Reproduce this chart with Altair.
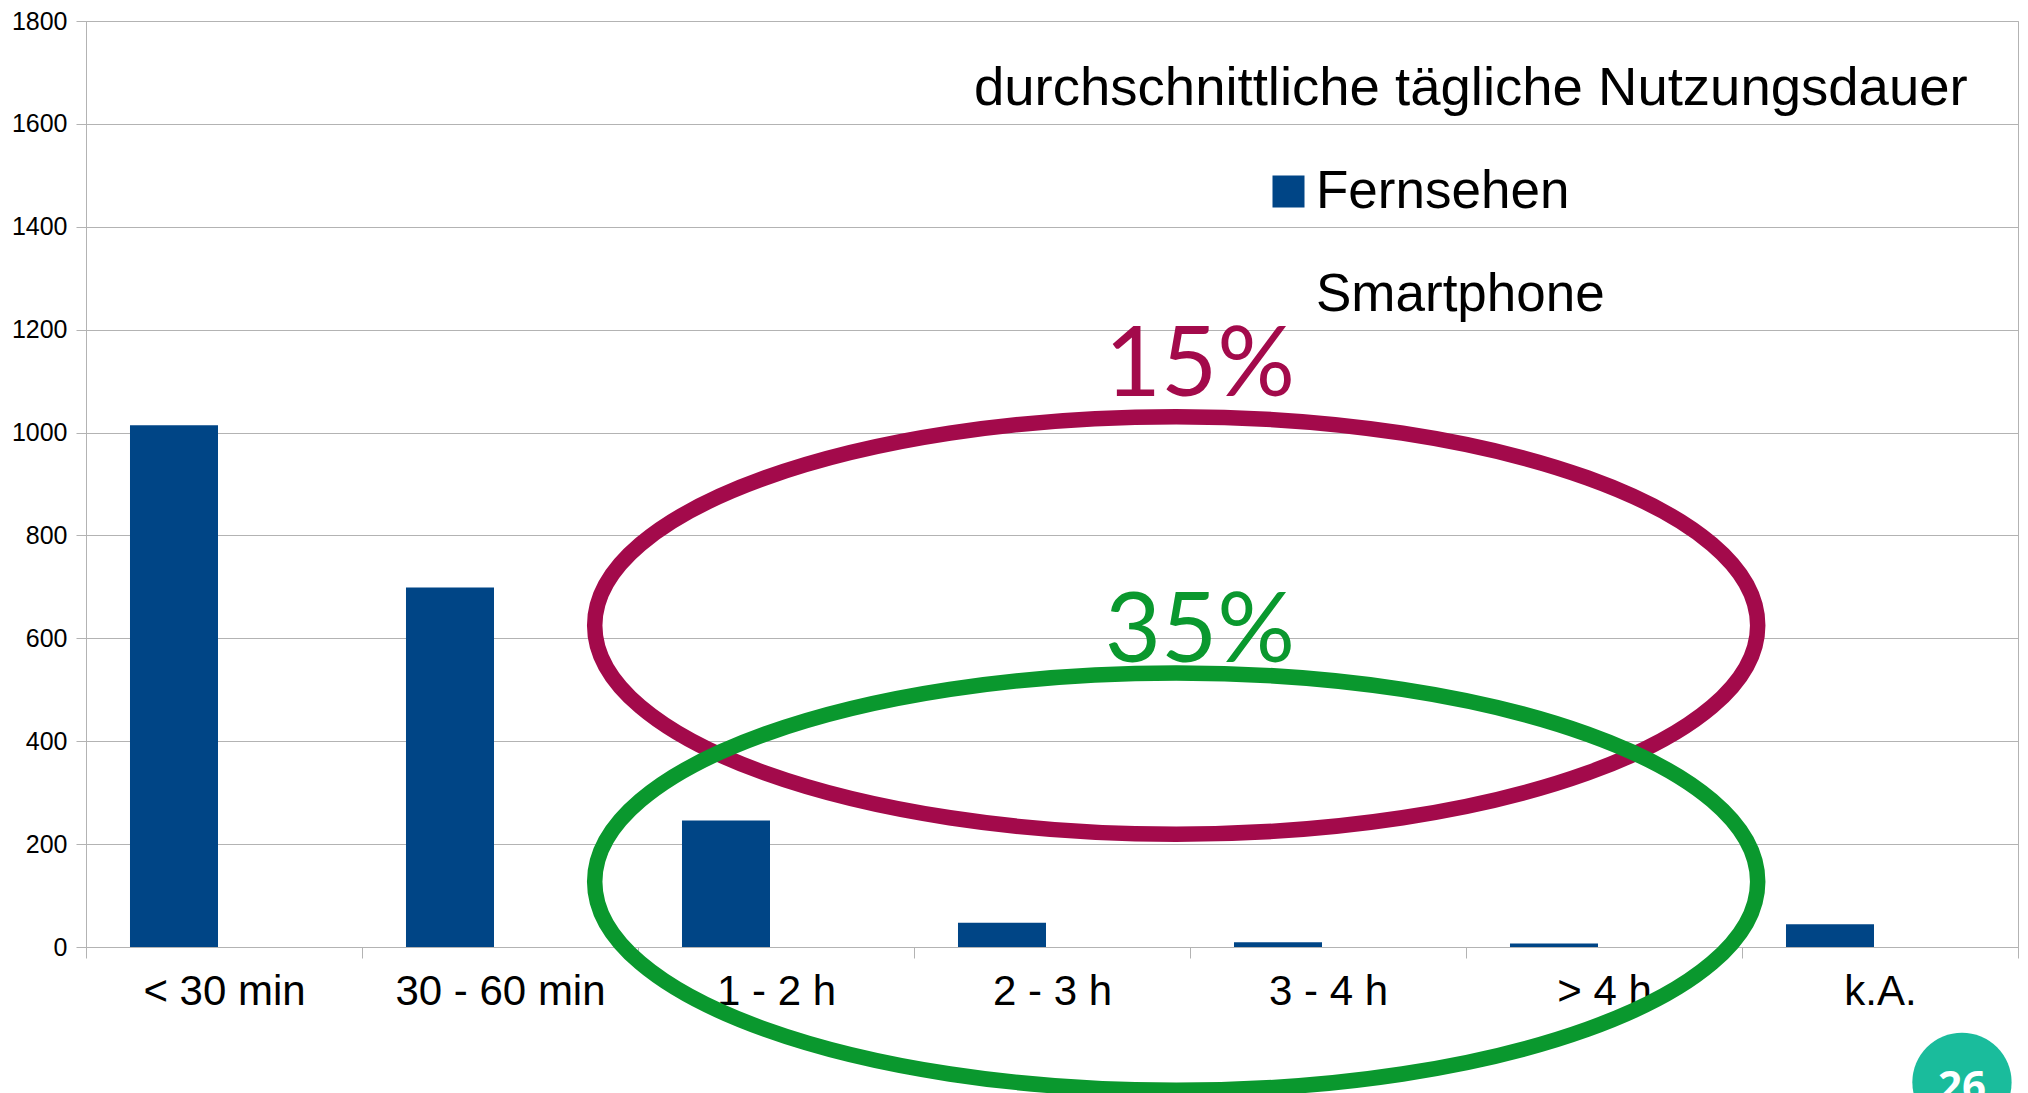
import altair as alt
import pandas as pd

# ---- chart data ----
categories = ["< 30 min", "30 - 60 min", "1 - 2 h", "2 - 3 h", "3 - 4 h", "> 4 h", "k.A."]
series = ["Fernsehen", "Smartphone"]
fernsehen = [1014, 699, 246, 47, 9, 7, 44]
smartphone = [None, None, None, None, None, None, None]
y_ticks = [0, 200, 400, 600, 800, 1000, 1200, 1400, 1600, 1800]
legend_title = "durchschnittliche tägliche Nutzungsdauer"

# ---- annotation anchors (category units on x, axis values on y) ----
ellipse_x = [3.95, 3.95]
ellipse_y = [625, 127]
pct_labels = ["15%", "35%"]
pct_x = [4.036, 4.036]
pct_y = [1072, 554]
badge_label = ["26"]
badge_x = [6.797]
badge_y = [-263]
badge_text_y = [-300]

# ---- styles ----
BLUE = "#004586"
MAGENTA = "#a30a4b"
GREEN = "#0a982e"
TEAL = "#1abc9c"
GRID = "#b3b3b3"
FONT = "Liberation Sans"
ELLIPSE = "M -1 0 A 1 0.3589 0 1 1 1 0 A 1 0.3589 0 1 1 -1 0 Z"

rows = []
for i, c in enumerate(categories):
    rows.append({"category": c, "series": "Fernsehen", "value": fernsehen[i]})
    rows.append({"category": c, "series": "Smartphone", "value": smartphone[i]})
df = pd.DataFrame(rows)

yscale = alt.Scale(domain=[0, 1800], nice=False, zero=False)
xq = alt.Scale(domain=[0, 7], nice=False, zero=False)

bars = alt.Chart(df).mark_bar().encode(
    x=alt.X("category:N", sort=categories,
            scale=alt.Scale(domain=categories, paddingInner=0, paddingOuter=0),
            axis=alt.Axis(title=None, labelAngle=0, labelFontSize=42, labelFont=FONT,
                          labelColor="black", tickBand="extent", tickSize=11,
                          labelPadding=13, grid=False, domainColor=GRID, tickColor=GRID,
                          labelLimit=400)),
    xOffset=alt.XOffset("series:N",
                        scale=alt.Scale(domain=series, paddingInner=0, paddingOuter=0.568, align=0.44)),
    y=alt.Y("value:Q", scale=yscale,
            axis=alt.Axis(title=None, values=y_ticks, format="d", tickSize=10, labelPadding=9,
                          labelFontSize=25, labelFont=FONT, labelColor="black",
                          grid=True, gridColor=GRID, domainColor=GRID, tickColor=GRID)),
    color=alt.Color("series:N", scale=alt.Scale(domain=series, range=[BLUE, "#ffffff"]),
                    legend=alt.Legend(title=None, orient="none", legendX=1176, legendY=144,
                                      symbolType="square", symbolSize=1024, symbolStrokeWidth=0,
                                      labelFontSize=53, labelFont=FONT, labelColor="black",
                                      labelLimit=1000, rowPadding=49, labelOffset=1, padding=0)),
)


def ellipse_layer(xv, yv, color):
    d = pd.DataFrame({"x": [xv], "y": [yv]})
    return alt.Chart(d).mark_point(shape=ELLIPSE, size=1352569, filled=False,
                                   strokeWidth=15.5, color=color, opacity=1).encode(
        x=alt.X("x:Q", scale=xq, axis=None),
        y=alt.Y("y:Q", scale=yscale),
    )


def pct_layer(xv, yv, label, color):
    d = pd.DataFrame({"x": [xv], "y": [yv], "t": [label]})
    return alt.Chart(d).mark_text(font="Lato", fontSize=97, color=color,
                                  baseline="alphabetic", align="center").encode(
        x=alt.X("x:Q", scale=xq, axis=None),
        y=alt.Y("y:Q", scale=yscale),
        text="t:N",
    )


badge_df = pd.DataFrame({"x": badge_x, "y": badge_y, "ty": badge_text_y, "t": badge_label})
badge = alt.Chart(badge_df).mark_circle(size=9852, color=TEAL, opacity=1).encode(
    x=alt.X("x:Q", scale=xq, axis=None),
    y=alt.Y("y:Q", scale=yscale),
)
badge_text = alt.Chart(badge_df).mark_text(font="Noto Sans", fontSize=42, fontWeight="bold",
                                           color="white", baseline="alphabetic", align="center").encode(
    x=alt.X("x:Q", scale=xq, axis=None),
    y=alt.Y("ty:Q", scale=yscale),
    text="t:N",
)

chart = alt.layer(
    bars,
    ellipse_layer(ellipse_x[0], ellipse_y[0], MAGENTA),
    ellipse_layer(ellipse_x[1], ellipse_y[1], GREEN),
    pct_layer(pct_x[0], pct_y[0], pct_labels[0], MAGENTA),
    pct_layer(pct_x[1], pct_y[1], pct_labels[1], GREEN),
    badge,
    badge_text,
).resolve_scale(x="independent").properties(
    width=1932,
    height=926,
    autosize=alt.AutoSizeParams(type="none"),
    padding={"left": 78, "top": 13, "right": 2, "bottom": 146},
    title=alt.TitleParams(text=legend_title, anchor="start", frame="group", orient="top",
                          offset=0, dx=888, dy=150, baseline="alphabetic", font=FONT,
                          fontSize=54.5, fontWeight="normal", color="black"),
).configure_view(stroke=GRID, strokeWidth=1)

chart.save("out.html", embed_options={"renderer": "svg", "actions": False})
